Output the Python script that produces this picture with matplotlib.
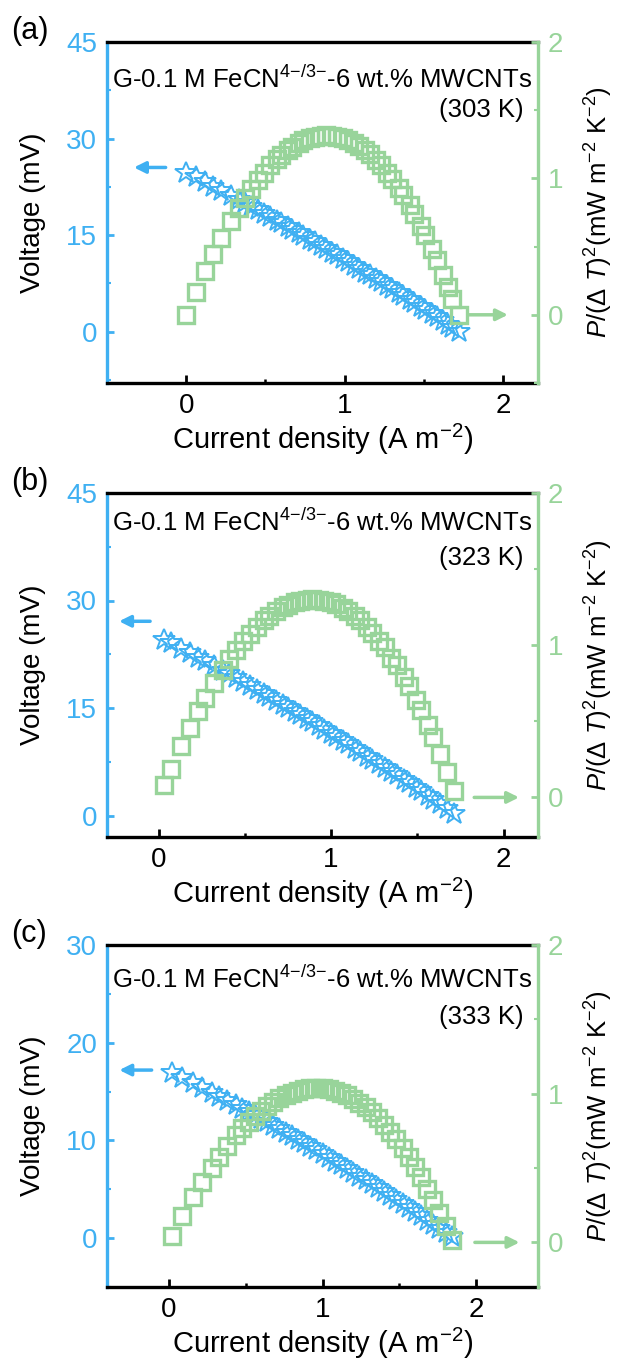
import matplotlib
matplotlib.use('Agg')
import matplotlib.pyplot as plt
from matplotlib.ticker import MultipleLocator

plt.rcParams['font.family'] = 'Liberation Sans'
plt.rcParams['mathtext.fontset'] = 'custom'
plt.rcParams['mathtext.rm'] = 'Liberation Sans'
plt.rcParams['mathtext.it'] = 'Liberation Sans:italic'

BLUE = '#3FB0F2'
GREEN = '#98D49A'

# (a) 303 K
i_303 = [0.00, 0.06, 0.12, 0.17, 0.22, 0.28, 0.33, 0.37, 0.41, 0.45, 0.49, 0.53,
         0.57, 0.60, 0.64, 0.67, 0.71, 0.74, 0.78, 0.81, 0.85, 0.88, 0.92, 0.95,
         0.99, 1.02, 1.06, 1.09, 1.13, 1.16, 1.20, 1.23, 1.27, 1.30, 1.34, 1.37,
         1.41, 1.44, 1.48, 1.51, 1.55, 1.58, 1.62, 1.65, 1.68, 1.72]
v_303 = [24.70, 23.95, 23.18, 22.54, 21.90, 21.11, 20.46, 19.92, 19.39, 18.85, 18.31, 17.77,
         17.22, 16.80, 16.25, 15.83, 15.27, 14.85, 14.28, 13.85, 13.28, 12.85, 12.27, 11.83,
         11.25, 10.81, 10.21, 9.77, 9.17, 8.72, 8.12, 7.66, 7.05, 6.59, 5.98, 5.51,
         4.89, 4.42, 3.79, 3.32, 2.68, 2.20, 1.56, 1.08, 0.60, 0.00]
p_303 = [0.000, 0.167, 0.323, 0.446, 0.560, 0.687, 0.785, 0.857, 0.924, 0.986, 1.043, 1.095,
         1.141, 1.172, 1.209, 1.233, 1.261, 1.278, 1.295, 1.304, 1.313, 1.315, 1.313, 1.307,
         1.295, 1.282, 1.258, 1.238, 1.205, 1.176, 1.133, 1.096, 1.041, 0.996, 0.932, 0.878,
         0.802, 0.740, 0.652, 0.583, 0.483, 0.404, 0.294, 0.207, 0.117, 0.000]

# (b) 323 K
i_323 = [0.03, 0.07, 0.13, 0.18, 0.23, 0.27, 0.32, 0.37, 0.41, 0.45, 0.49, 0.53,
         0.57, 0.61, 0.64, 0.68, 0.72, 0.75, 0.79, 0.82, 0.86, 0.89, 0.93, 0.96,
         1.00, 1.03, 1.07, 1.10, 1.14, 1.17, 1.21, 1.24, 1.28, 1.31, 1.35, 1.38,
         1.42, 1.45, 1.49, 1.52, 1.56, 1.59, 1.63, 1.67, 1.71]
v_323 = [24.53, 24.04, 23.29, 22.66, 22.03, 21.51, 20.86, 20.21, 19.68, 19.15, 18.61, 18.07,
         17.52, 16.97, 16.56, 16.00, 15.44, 15.02, 14.45, 14.02, 13.45, 13.01, 12.43, 11.99,
         11.40, 10.96, 10.36, 9.91, 9.30, 8.85, 8.23, 7.77, 7.15, 6.69, 6.06, 5.59,
         4.95, 4.48, 3.84, 3.35, 2.70, 2.22, 1.56, 0.90, 0.24]
p_323 = [0.083, 0.189, 0.340, 0.458, 0.569, 0.653, 0.750, 0.840, 0.907, 0.968, 1.025, 1.076,
         1.122, 1.163, 1.191, 1.223, 1.249, 1.266, 1.283, 1.292, 1.299, 1.301, 1.299, 1.293,
         1.281, 1.268, 1.245, 1.224, 1.191, 1.163, 1.120, 1.083, 1.029, 0.985, 0.919, 0.867,
         0.790, 0.729, 0.642, 0.573, 0.474, 0.396, 0.286, 0.169, 0.045]

# (c) 333 K
i_333 = [0.02, 0.09, 0.16, 0.22, 0.28, 0.33, 0.38, 0.44, 0.48, 0.52, 0.56, 0.60,
         0.64, 0.68, 0.72, 0.76, 0.80, 0.84, 0.88, 0.92, 0.96, 1.00, 1.04, 1.08,
         1.12, 1.16, 1.20, 1.24, 1.28, 1.32, 1.36, 1.40, 1.44, 1.48, 1.52, 1.56,
         1.60, 1.64, 1.68, 1.72, 1.76, 1.80, 1.84]
v_333 = [16.95, 16.41, 15.86, 15.38, 14.90, 14.49, 14.08, 13.58, 13.25, 12.91, 12.56, 12.22,
         11.87, 11.52, 11.16, 10.80, 10.44, 10.08, 9.72, 9.35, 8.98, 8.60, 8.22, 7.84,
         7.46, 7.07, 6.68, 6.29, 5.90, 5.50, 5.10, 4.70, 4.29, 3.88, 3.47, 3.05,
         2.64, 2.22, 1.79, 1.37, 0.94, 0.50, 0.07]
p_333 = [0.041, 0.178, 0.306, 0.408, 0.503, 0.576, 0.645, 0.720, 0.766, 0.809, 0.847, 0.883,
         0.915, 0.943, 0.968, 0.989, 1.007, 1.020, 1.030, 1.036, 1.038, 1.036, 1.030, 1.020,
         1.006, 0.989, 0.966, 0.940, 0.910, 0.875, 0.836, 0.792, 0.744, 0.692, 0.635, 0.574,
         0.508, 0.438, 0.362, 0.283, 0.199, 0.109, 0.015]

tags = ['(a)', '(b)', '(c)']
temps = ['(303 K)', '(323 K)', '(333 K)']
currents = [i_303, i_323, i_333]
voltages = [v_303, v_323, v_333]
powers = [p_303, p_323, p_333]

W, H = 618, 1362
fig = plt.figure(figsize=(W / 100, H / 100), dpi=100)

# pixel boxes (top, bottom) of each panel
boxes = [(42, 383), (493, 837), (945, 1287)]
left_px, right_px = 107, 538
xlims = [(-0.5, 2.22), (-0.3, 2.2), (-0.4, 2.4)]
vlims = [(-8, 45), (-3, 45), (-5, 30)]
vsteps = [15, 15, 10]
plims = [(-0.5, 2), (-0.26, 2), (-0.3, 2)]
blue_arrows = [(-0.13, -0.33, 25.5), (-0.05, -0.23, 27.1), (-0.11, -0.32, 17.2)]
green_arrows = [(1.78, 2.03), (1.83, 2.09), (1.99, 2.28)]
text_y = [(0.889, 0.80), (0.913, 0.81), (0.898, 0.79)]

for k in range(3):
    top, bot = boxes[k]
    ax = fig.add_axes([left_px / W, 1 - bot / H, (right_px - left_px) / W, (bot - top) / H])
    ax2 = ax.twinx()

    ax.plot(currents[k], voltages[k], ls='none', marker='*', ms=16.5, mfc='none',
            mec=BLUE, mew=1.4)
    ax2.plot(currents[k], powers[k], ls='none', marker='s', ms=11.5, mfc='none',
             mec=GREEN, mew=2.4)

    ax.set_xlim(*xlims[k])
    ax.set_ylim(*vlims[k])
    ax2.set_ylim(*plims[k])

    ax.xaxis.set_major_locator(MultipleLocator(1))
    ax.xaxis.set_minor_locator(MultipleLocator(0.5))
    ax.yaxis.set_major_locator(MultipleLocator(vsteps[k]))
    ax.yaxis.set_minor_locator(MultipleLocator(vsteps[k] / 2))
    ax2.yaxis.set_major_locator(MultipleLocator(1))
    ax2.yaxis.set_minor_locator(MultipleLocator(0.5))

    # spines
    for s in ['top', 'bottom']:
        ax.spines[s].set_linewidth(2.4)
        ax.spines[s].set_color('black')
    ax.spines['left'].set_color(BLUE)
    ax.spines['left'].set_linewidth(2.4)
    ax.spines['right'].set_visible(False)
    for s in ['top', 'bottom', 'left']:
        ax2.spines[s].set_visible(False)
    ax2.spines['right'].set_color(GREEN)
    ax2.spines['right'].set_linewidth(2.4)

    ax.tick_params(axis='x', which='both', direction='in', top=False, colors='black',
                   labelsize=20, pad=7)
    ax.tick_params(axis='x', which='major', length=6, width=2)
    ax.tick_params(axis='x', which='minor', length=3, width=1.8)
    ax.tick_params(axis='y', which='both', direction='in', right=False, colors=BLUE,
                   labelsize=20, pad=7)
    ax.tick_params(axis='y', which='major', length=5, width=2)
    ax.tick_params(axis='y', which='minor', length=3, width=1.5)
    ax2.tick_params(axis='y', which='both', direction='in', colors=GREEN,
                    labelsize=20, pad=7)
    ax2.tick_params(axis='y', which='major', length=5, width=2)
    ax2.tick_params(axis='y', which='minor', length=3, width=1.5)

    ax.set_xlabel('Current density (A m$^{-2}$)', fontsize=21, labelpad=2)
    ax.set_ylabel('Voltage (mV)', fontsize=20)
    ax.yaxis.set_label_coords(-0.142, 0.5)
    ax2.set_ylabel('$P$/(Δ $T$)$^2$(mW m$^{-2}$ K$^{-2}$)', fontsize=18.5)
    ax2.yaxis.set_label_coords(1.105, 0.5)

    ax.text(0.5, text_y[k][0], 'G-0.1 M FeCN$^{4{-}/3{-}}$-6 wt.% MWCNTs',
            transform=ax.transAxes, ha='center', va='center', fontsize=18.5)
    ax.text(0.967, text_y[k][1], temps[k], transform=ax.transAxes,
            ha='right', va='center', fontsize=18.5)

    bx0, bx1, by = blue_arrows[k]
    ax.annotate('', xy=(bx1, by), xytext=(bx0, by),
                arrowprops=dict(arrowstyle='-|>', color=BLUE, lw=2.5, mutation_scale=17,
                                shrinkA=0, shrinkB=0))
    gx0, gx1 = green_arrows[k]
    ax2.annotate('', xy=(gx1, 0), xytext=(gx0, 0),
                 arrowprops=dict(arrowstyle='-|>', color=GREEN, lw=2.5, mutation_scale=17,
                                 shrinkA=0, shrinkB=0))

    fig.text(11 / W, 1 - (top - 11) / H, tags[k], ha='left', va='center', fontsize=22)

fig.savefig('out.png', dpi=100, facecolor='white')
